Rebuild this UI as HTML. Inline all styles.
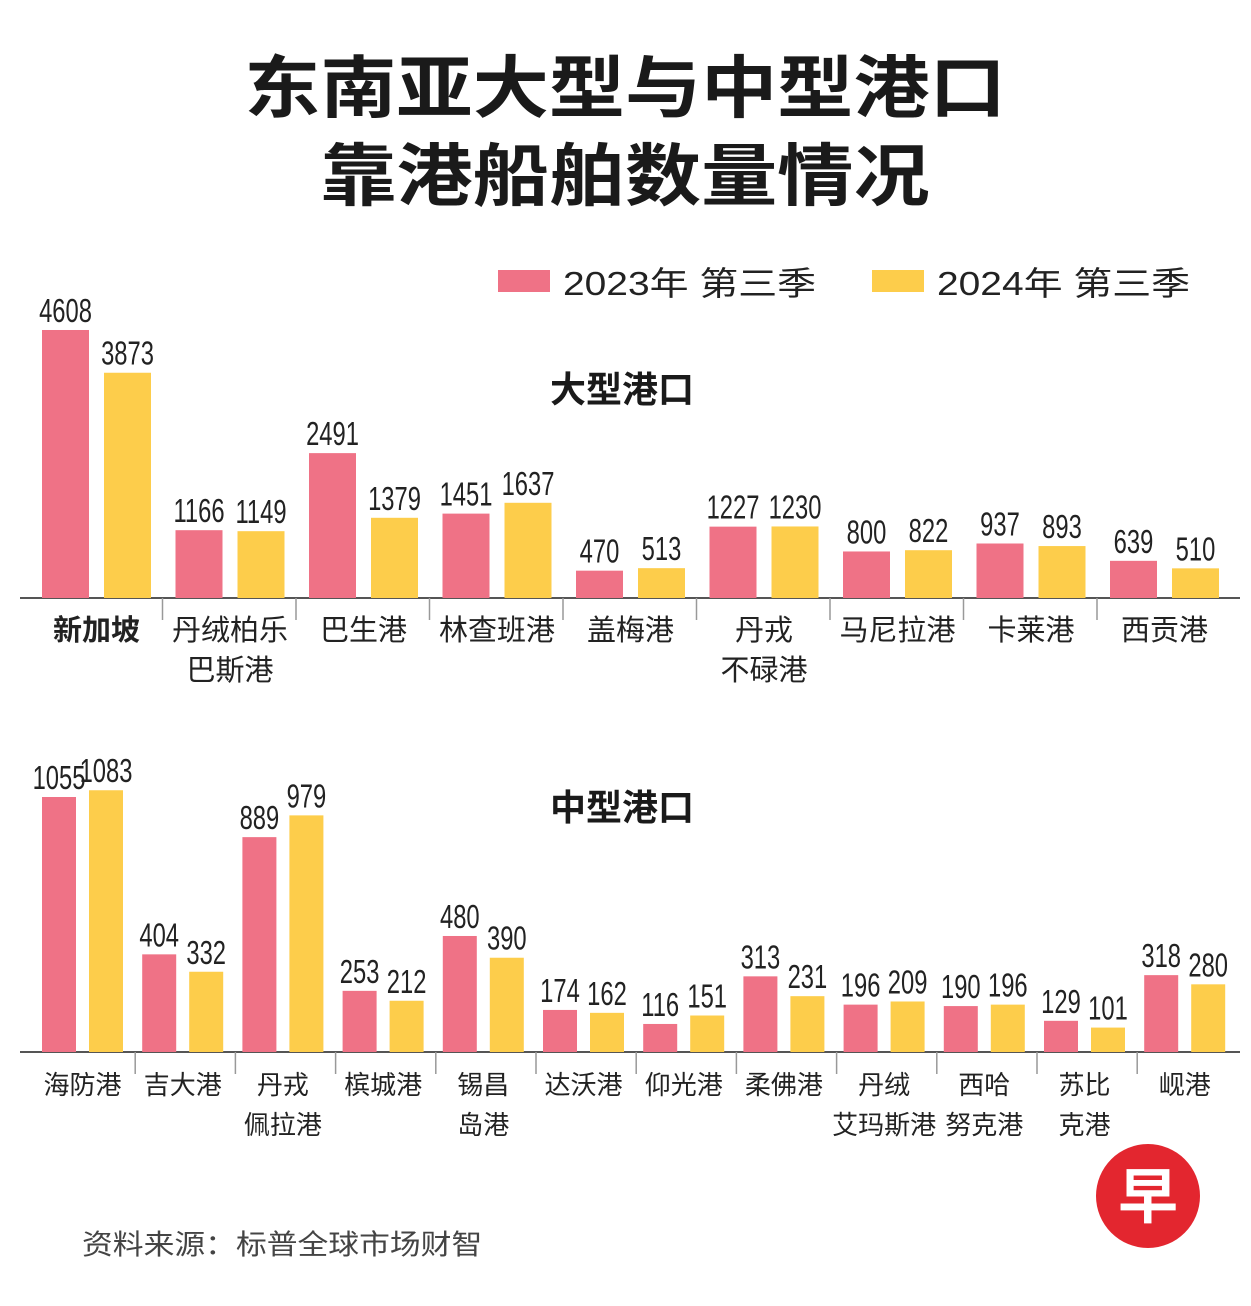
<!DOCTYPE html>
<html><head><meta charset="utf-8">
<style>
html,body{margin:0;padding:0;background:#fff;}
svg{display:block;font-family:"Liberation Sans","Noto Sans CJK SC",sans-serif;}
</style></head>
<body>
<svg id="chart" width="1251" height="1306" viewBox="0 0 1251 1306" xmlns="http://www.w3.org/2000/svg">
<rect width="1251" height="1306" fill="#fff"/>
<text transform="translate(625,112) scale(1.12,1)" text-anchor="middle" font-size="68" font-weight="bold" fill="#1a1a1a">东南亚大型与中型港口</text>
<text transform="translate(625,200) scale(1.12,1)" text-anchor="middle" font-size="68" font-weight="bold" fill="#1a1a1a">靠港船舶数量情况</text>
<rect x="498" y="270" width="52" height="22" fill="#ef7286"/>
<text transform="translate(563,295) scale(1.18,1)" font-size="33" fill="#222">2023年 第三季</text>
<rect x="872" y="270" width="52" height="22" fill="#fdcd4b"/>
<text transform="translate(937,295) scale(1.18,1)" font-size="33" fill="#222">2024年 第三季</text>
<text x="622" y="402" text-anchor="middle" font-size="36" font-weight="bold" fill="#1a1a1a">大型港口</text>
<text x="622" y="820" text-anchor="middle" font-size="36" font-weight="bold" fill="#1a1a1a">中型港口</text>
<g id="top"></g>
<g id="bottom"></g>
<text transform="translate(82,1254) scale(1.1,1)" font-size="28" fill="#444">资料来源：标普全球市场财智</text>
<g>
<circle cx="1148" cy="1196" r="52" fill="#e3262f"/>
<text x="1148" y="1218" text-anchor="middle" font-size="60" font-weight="bold" fill="#fff">早</text>
</g>
</svg>
<script>
const largeCats = [["新加坡"],["丹绒柏乐","巴斯港"],["巴生港"],["林查班港"],["盖梅港"],["丹戎","不碌港"],["马尼拉港"],["卡莱港"],["西贡港"]];
const large2023 = [4608,1166,2491,1451,470,1227,800,937,639];
const large2024 = [3873,1149,1379,1637,513,1230,822,893,510];
const medCats = [["海防港"],["吉大港"],["丹戎","佩拉港"],["槟城港"],["锡昌","岛港"],["达沃港"],["仰光港"],["柔佛港"],["丹绒","艾玛斯港"],["西哈","努克港"],["苏比","克港"],["岘港"]];
const med2023 = [1055,404,889,253,480,174,116,313,196,190,129,318];
const med2024 = [1083,332,979,212,390,162,151,231,209,196,101,280];

const NS="http://www.w3.org/2000/svg";
function mk(tag, attrs, parent){const e=document.createElementNS(NS,tag);for(const k in attrs)e.setAttribute(k,attrs[k]);parent.appendChild(e);return e;}

function draw(gid, cats, a, b, cfg){
  const g=document.getElementById(gid);
  const y=v=>cfg.base - v*cfg.scale;
  const ax=mk('line',{x1:20,x2:1240,y1:cfg.base,y2:cfg.base,stroke:'#555','stroke-width':2},g);
  
  
  cats.forEach((c,i)=>{
    const x0=cfg.start+i*cfg.pitch;
    const x1=x0+cfg.bw+cfg.gap;
    [[a[i],x0,'#ef7286','2023'],[b[i],x1,'#fdcd4b','2024']].forEach(([v,x,col,yr])=>{
      const r=mk('rect',{x:x,y:y(v),width:cfg.bw,height:v*cfg.scale,fill:col},g);
      
      
      const t=mk('text',{transform:`translate(${x+cfg.bw/2},${y(v)-8}) scale(0.72,1)`,'text-anchor':'middle','font-size':cfg.vfs,fill:'#222'},g);
      t.textContent=v;
      
      
    });
    if(i>0){
      const s=mk('line',{x1:x0-cfg.sepOff,x2:x0-cfg.sepOff,y1:cfg.base,y2:cfg.base+22,stroke:'#999','stroke-width':1.5},g);
      
      
    }
    const cx=x0+cfg.bw+cfg.gap/2;
    c.forEach((ln,j)=>{
      const t=mk('text',{x:cx,y:cfg.base+42+j*40,'text-anchor':'middle','font-size':cfg.cfs,fill:'#222','font-weight':(gid==='top'&&i===0)?'bold':'normal'},g);
      t.textContent=ln;
      
      
    });
  });
}
draw('top', largeCats, large2023, large2024, {base:598, scale:0.05816, start:42, pitch:133.5, bw:47, gap:15, sepOff:13, vfs:33, cfs:29});
draw('bottom', medCats, med2023, med2024, {base:1052, scale:0.2417, start:42, pitch:100.2, bw:34, gap:13, sepOff:7, vfs:33, cfs:26});
</script>
</body></html>
